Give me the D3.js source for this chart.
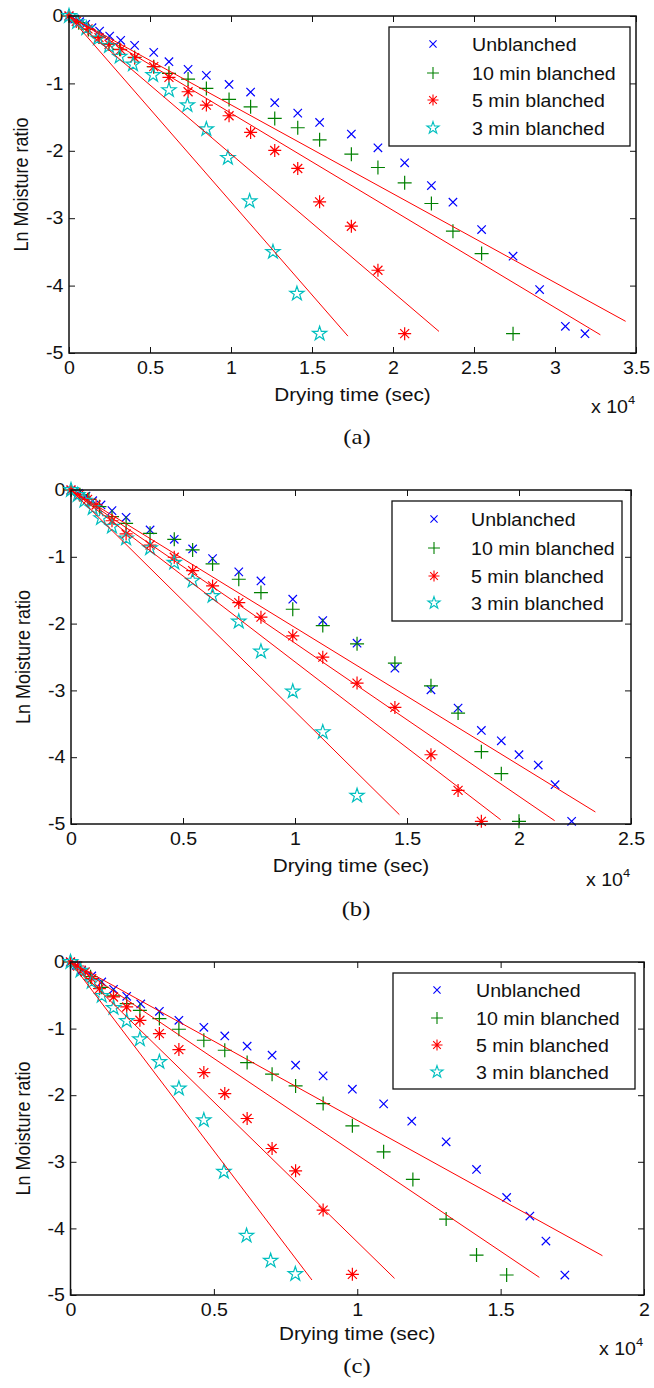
<!DOCTYPE html>
<html>
<head>
<meta charset="utf-8">
<title>Ln moisture ratio vs drying time</title>
<script src="https://d3js.org/d3.v7.min.js"></script>
<style>
  body { margin: 0; background: #fff; }
  text { font-family: "Liberation Sans", Arial, Helvetica, sans-serif; fill: #111; }
</style>
</head>
<body>
<script>
// ---- data: x in 10^4 s, y = ln(MR) ----
var seriesNames = ["Unblanched", "10 min blanched", "5 min blanched", "3 min blanched"];
var seriesColors = ["#0000ff", "#008000", "#ff0000", "#00bfbf"];
var seriesMarkers = ["x", "+", "*", "p"];
var yTicks = [0, -1, -2, -3, -4, -5];

// (a)
var a_xTicks = [0, 0.5, 1, 1.5, 2, 2.5, 3, 3.5];
var a_unbl = [[0,0],[0.035,-0.045],[0.066,-0.084],[0.103,-0.124],[0.142,-0.173],[0.189,-0.223],[0.251,-0.297],[0.319,-0.361],[0.405,-0.436],[0.523,-0.540],[0.617,-0.678],[0.735,-0.792],[0.848,-0.881],[0.988,-1.015],[1.121,-1.129],[1.270,-1.287],[1.412,-1.441],[1.547,-1.579],[1.743,-1.752],[1.907,-1.955],[2.072,-2.178],[2.237,-2.515],[2.370,-2.762],[2.547,-3.168],[2.741,-3.564],[2.905,-4.059],[3.064,-4.604],[3.185,-4.713]];
var a_b10 = [[0,0],[0.06,-0.1],[0.12,-0.2],[0.185,-0.31],[0.247,-0.41],[0.313,-0.495],[0.405,-0.614],[0.523,-0.752],[0.617,-0.851],[0.735,-0.936],[0.848,-1.074],[0.988,-1.238],[1.121,-1.347],[1.270,-1.520],[1.412,-1.658],[1.547,-1.837],[1.743,-2.050],[1.907,-2.248],[2.072,-2.475],[2.237,-2.782],[2.370,-3.193],[2.547,-3.525],[2.741,-4.713]];
var a_b5 = [[0,0],[0.045,-0.08],[0.117,-0.19],[0.185,-0.32],[0.247,-0.42],[0.319,-0.5],[0.405,-0.619],[0.523,-0.752],[0.617,-0.911],[0.735,-1.124],[0.848,-1.322],[0.988,-1.480],[1.121,-1.728],[1.270,-1.995],[1.412,-2.262],[1.547,-2.757],[1.743,-3.119],[1.907,-3.772],[2.072,-4.713]];
var a_b3 = [[0,0],[0.05,-0.09],[0.107,-0.183],[0.179,-0.332],[0.247,-0.446],[0.313,-0.604],[0.395,-0.718],[0.519,-0.876],[0.617,-1.099],[0.731,-1.322],[0.848,-1.678],[0.981,-2.104],[1.115,-2.748],[1.259,-3.500],[1.407,-4.119],[1.547,-4.713]];
var a_fitEnd = [[3.436,-4.53],[3.28,-4.73],[2.284,-4.68],[1.722,-4.75]];

// (b)
var b_xTicks = [0, 0.5, 1, 1.5, 2, 2.5];
var b_unbl = [[0,0],[0.033,-0.05],[0.067,-0.09],[0.097,-0.16],[0.134,-0.224],[0.183,-0.309],[0.246,-0.409],[0.353,-0.598],[0.461,-0.738],[0.543,-0.882],[0.632,-1.027],[0.749,-1.226],[0.848,-1.361],[0.990,-1.635],[1.124,-1.954],[1.277,-2.293],[1.446,-2.667],[1.607,-2.991],[1.728,-3.265],[1.832,-3.599],[1.921,-3.754],[2.000,-3.963],[2.086,-4.118],[2.161,-4.412],[2.235,-4.960]];
var b_b10 = [[0,0],[0.04,-0.07],[0.08,-0.14],[0.127,-0.25],[0.183,-0.399],[0.246,-0.499],[0.353,-0.648],[0.461,-0.738],[0.543,-0.897],[0.632,-1.107],[0.749,-1.336],[0.848,-1.535],[0.990,-1.785],[1.124,-2.029],[1.277,-2.303],[1.446,-2.592],[1.607,-2.931],[1.728,-3.340],[1.832,-3.918],[1.921,-4.247],[2.000,-4.960]];
var b_b5 = [[0,0],[0.037,-0.07],[0.074,-0.14],[0.112,-0.224],[0.183,-0.46],[0.246,-0.658],[0.353,-0.823],[0.461,-1.007],[0.543,-1.206],[0.632,-1.436],[0.749,-1.685],[0.848,-1.904],[0.990,-2.183],[1.124,-2.502],[1.277,-2.891],[1.446,-3.255],[1.607,-3.963],[1.728,-4.497],[1.832,-4.960]];
var b_b3 = [[0,0],[0.03,-0.075],[0.06,-0.16],[0.097,-0.27],[0.134,-0.42],[0.183,-0.548],[0.246,-0.723],[0.353,-0.872],[0.461,-1.087],[0.543,-1.356],[0.632,-1.585],[0.749,-1.969],[0.848,-2.418],[0.990,-3.016],[1.124,-3.624],[1.277,-4.576]];
var b_fitEnd = [[2.341,-4.82],[2.159,-4.95],[1.918,-4.935],[1.466,-4.86]];

// (c)
var c_xTicks = [0, 0.5, 1, 1.5, 2];
var c_unbl = [[0,0],[0.02,-0.05],[0.039,-0.125],[0.074,-0.21],[0.109,-0.30],[0.150,-0.41],[0.196,-0.515],[0.245,-0.63],[0.310,-0.74],[0.378,-0.875],[0.465,-0.98],[0.538,-1.11],[0.616,-1.265],[0.703,-1.40],[0.785,-1.55],[0.881,-1.71],[0.983,-1.91],[1.092,-2.13],[1.190,-2.39],[1.310,-2.70],[1.416,-3.115],[1.521,-3.535],[1.602,-3.815],[1.658,-4.19],[1.724,-4.70]];
var c_b10 = [[0,0],[0.035,-0.1],[0.07,-0.22],[0.109,-0.38],[0.150,-0.51],[0.196,-0.625],[0.242,-0.725],[0.310,-0.85],[0.378,-1.01],[0.465,-1.175],[0.538,-1.325],[0.616,-1.51],[0.703,-1.685],[0.785,-1.86],[0.881,-2.125],[0.983,-2.46],[1.092,-2.85],[1.194,-3.265],[1.310,-3.86],[1.416,-4.40],[1.521,-4.70]];
var c_b5 = [[0,0],[0.025,-0.06],[0.051,-0.15],[0.074,-0.25],[0.101,-0.40],[0.150,-0.525],[0.196,-0.675],[0.242,-0.875],[0.310,-1.075],[0.378,-1.315],[0.465,-1.66],[0.538,-1.975],[0.616,-2.35],[0.703,-2.80],[0.785,-3.135],[0.881,-3.725],[0.983,-4.69]];
var c_b3 = [[0,0],[0.035,-0.13],[0.074,-0.30],[0.109,-0.51],[0.150,-0.69],[0.196,-0.885],[0.242,-1.16],[0.310,-1.50],[0.378,-1.90],[0.465,-2.375],[0.535,-3.15],[0.614,-4.11],[0.698,-4.485],[0.784,-4.685]];
var c_fitEnd = [[1.855,-4.41],[1.635,-4.735],[1.130,-4.75],[0.842,-4.775]];

// ---- layout ----
var SX = 1.12; // text is a bit wide in the source image
var panels = [
  { tag: "(a)", series: [a_unbl, a_b10, a_b5, a_b3], fit: a_fitEnd, xTicks: a_xTicks,
    left: 69, right: 636, top: 16, bottom: 353,
    legend: { x0: 389, x1: 630, y0: 27, y1: 146, mx: 433, tx: 472, rows: [44, 73, 100, 128] },
    xlabDy: 48, expDy: 60, tagDy: 91, tagX: 357 },
  { tag: "(b)", series: [b_unbl, b_b10, b_b5, b_b3], fit: b_fitEnd, xTicks: b_xTicks,
    left: 71, right: 631, top: 490, bottom: 824,
    legend: { x0: 392, x1: 622, y0: 501, y1: 621, mx: 434, tx: 471, rows: [519, 548, 576, 603] },
    xlabDy: 48, expDy: 62, tagDy: 92, tagX: 356 },
  { tag: "(c)", series: [c_unbl, c_b10, c_b5, c_b3], fit: c_fitEnd, xTicks: c_xTicks,
    left: 70.5, right: 644, top: 962, bottom: 1295,
    legend: { x0: 393, x1: 635, y0: 973, y1: 1089, mx: 437, tx: 476, rows: [990, 1018, 1045, 1072] },
    xlabDy: 45, expDy: 60, tagDy: 78, tagX: 357 }
];

var svg = d3.select("body").append("svg").attr("width", 654).attr("height", 1388);
svg.append("rect").attr("width", 654).attr("height", 1388).attr("fill", "#fff");

// marker shapes centred on 0,0
function markerPath(type, k) {
  k = k || 1;
  var p = d3.path();
  if (type === "x") {
    var s = 4.2 * k;
    p.moveTo(-s, -s); p.lineTo(s, s); p.moveTo(-s, s); p.lineTo(s, -s);
  } else if (type === "+") {
    var s = 7 * k;
    p.moveTo(-s, 0); p.lineTo(s, 0); p.moveTo(0, -s); p.lineTo(0, s);
  } else if (type === "*") {
    var s = 6.5 * k, t = 4.5 * k;
    p.moveTo(-s, 0); p.lineTo(s, 0); p.moveTo(0, -s); p.lineTo(0, s);
    p.moveTo(-t, -t); p.lineTo(t, t); p.moveTo(-t, t); p.lineTo(t, -t);
  } else {
    var R = 7.5 * k, r = R * 0.382;
    for (var i = 0; i < 10; i++) {
      var ang = -Math.PI / 2 + i * Math.PI / 5;
      var rr = i % 2 ? r : R;
      if (i === 0) p.moveTo(rr * Math.cos(ang), rr * Math.sin(ang));
      else p.lineTo(rr * Math.cos(ang), rr * Math.sin(ang));
    }
    p.closePath();
  }
  return p.toString();
}

function stretch(sel) { sel.attr("transform", "scale(" + SX + ",1)"); }

panels.forEach(function(pn) {
  var g = svg.append("g");
  var x = d3.scaleLinear().domain([0, d3.max(pn.xTicks)]).range([pn.left, pn.right]);
  var y = d3.scaleLinear().domain([-5, 0]).range([pn.bottom, pn.top]);
  var fmt = function(d) { return String(d); };

  // axes, ticks pointing inwards on all four sides
  var gx = g.append("g").attr("transform", "translate(0," + pn.bottom + ")")
    .call(d3.axisBottom(x).tickValues(pn.xTicks).tickFormat(fmt).tickSizeInner(-6).tickSizeOuter(0).tickPadding(9));
  var gxt = g.append("g").attr("transform", "translate(0," + pn.top + ")")
    .call(d3.axisTop(x).tickValues(pn.xTicks).tickFormat("").tickSizeInner(-6).tickSizeOuter(0));
  var gy = g.append("g").attr("transform", "translate(" + pn.left + ",0)")
    .call(d3.axisLeft(y).tickValues(yTicks).tickFormat(fmt).tickSizeInner(-6).tickSizeOuter(0).tickPadding(5));
  var gyr = g.append("g").attr("transform", "translate(" + pn.right + ",0)")
    .call(d3.axisRight(y).tickValues(yTicks).tickFormat("").tickSizeInner(-6).tickSizeOuter(0));
  [gx, gxt, gy, gyr].forEach(function(a) {
    a.select(".domain").remove();
    a.selectAll("line").attr("stroke", "#111").attr("stroke-width", 1);
    a.selectAll("text").attr("font-size", 17.5).attr("fill", "#111")
      .attr("font-family", "'Liberation Sans', Arial, sans-serif");
  });
  gx.selectAll(".tick text").call(stretch);
  gy.selectAll(".tick text").call(stretch);

  // data markers
  pn.series.forEach(function(pts, si) {
    g.append("g").selectAll("path").data(pts).join("path")
      .attr("transform", function(d) { return "translate(" + x(d[0]) + "," + y(d[1]) + ")"; })
      .attr("d", markerPath(seriesMarkers[si]))
      .attr("fill", "none").attr("stroke", seriesColors[si]).attr("stroke-width", 1.2);
  });

  // fitted lines
  var line = d3.line().x(function(d) { return x(d[0]); }).y(function(d) { return y(d[1]); });
  g.append("g").selectAll("path").data(pn.fit).join("path")
    .attr("d", function(d) { return line([[0, 0], d]); })
    .attr("fill", "none").attr("stroke", "#ff0000").attr("stroke-width", 1);

  // box
  g.append("rect").attr("x", pn.left).attr("y", pn.top)
    .attr("width", pn.right - pn.left).attr("height", pn.bottom - pn.top)
    .attr("fill", "none").attr("stroke", "#111").attr("stroke-width", 1.5);

  // legend
  var L = pn.legend;
  var lg = g.append("g");
  lg.append("rect").attr("x", L.x0).attr("y", L.y0).attr("width", L.x1 - L.x0).attr("height", L.y1 - L.y0)
    .attr("fill", "#fff").attr("stroke", "#111").attr("stroke-width", 1.3);
  seriesNames.forEach(function(name, i) {
    lg.append("path").attr("transform", "translate(" + L.mx + "," + L.rows[i] + ")")
      .attr("d", markerPath(seriesMarkers[i], 0.85))
      .attr("fill", "none").attr("stroke", seriesColors[i]).attr("stroke-width", 1.1);
    lg.append("g").attr("transform", "translate(" + L.tx + "," + (L.rows[i] + 6.5) + ")")
      .append("text").text(name).attr("font-size", 17.5).call(stretch);
  });

  // axis labels
  var cx = (pn.left + pn.right) / 2;
  g.append("g").attr("transform", "translate(" + cx + "," + (pn.bottom + pn.xlabDy) + ")")
    .append("text").attr("text-anchor", "middle").attr("font-size", 18.5).text("Drying time (sec)").call(stretch);
  g.append("g").attr("transform", "translate(" + (pn.left - 41) + "," + ((pn.top + pn.bottom) / 2) + ") scale(" + SX + ",1) rotate(-90)")
    .append("text").attr("text-anchor", "middle").attr("font-size", 18).text("Ln Moisture ratio");
  var ex = g.append("g").attr("transform", "translate(" + (pn.right - 45) + "," + (pn.bottom + pn.expDy) + ") scale(" + SX + ",1)")
    .append("text").attr("font-size", 17.5);
  ex.append("tspan").text("x 10");
  ex.append("tspan").attr("font-size", 11.5).attr("dy", -9).text("4");

  // panel tag
  g.append("g").attr("transform", "translate(" + pn.tagX + "," + (pn.bottom + pn.tagDy) + ") scale(" + SX + ",1)")
    .append("text").attr("text-anchor", "middle").attr("font-size", 22)
    .style("font-family", "'Liberation Serif', 'Times New Roman', serif")
    .text(pn.tag);
});
</script>
</body>
</html>
